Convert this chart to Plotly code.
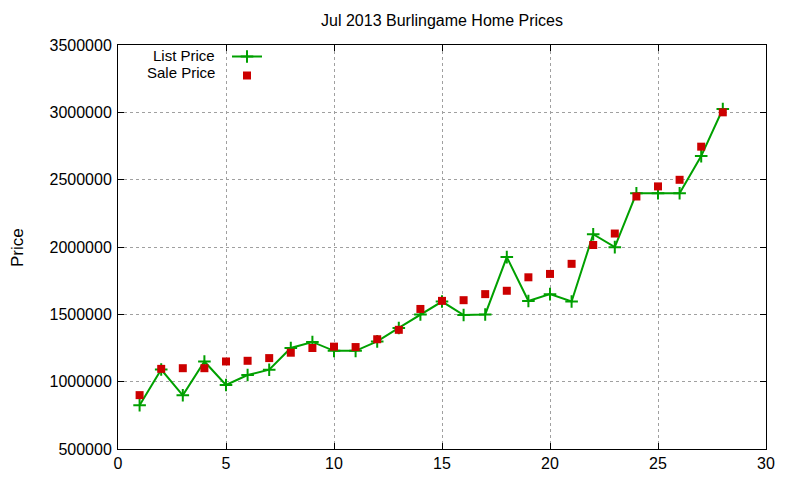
import plotly.graph_objects as go

# listing index (1..28) and prices
listing = list(range(1, 29))
list_price = [825000, 1090000, 899000, 1150000, 975000, 1049000, 1089000, 1250000, 1295000, 1229000,
              1229000, 1299000, 1399000, 1499000, 1595000, 1495000, 1499000, 1925000, 1599000, 1650000,
              1595000, 2095000, 1999000, 2399000, 2399000, 2399000, 2675000, 3025000]
sale_price = [900000, 1095000, 1100000, 1100000, 1150000, 1155000, 1175000, 1215000, 1250000, 1260000,
              1257000, 1315000, 1385000, 1540000, 1600000, 1605000, 1650000, 1675000, 1775000, 1800000,
              1875000, 2015000, 2100000, 2375000, 2450000, 2499000, 2745000, 3000000]
x_ticks = [0, 5, 10, 15, 20, 25, 30]
y_ticks = [500000, 1000000, 1500000, 2000000, 2500000, 3000000, 3500000]

FONT = 'Liberation Sans, Arial, sans-serif'
GREEN = '#00a000'
RED = '#cc0000'
W, H = 800, 480
L, R, T, B = 110, 42, 37, 39
PW, PH = W - L - R, H - T - B
OFF = 8  # page body margin shifts the figure by this much


def px(x):
    # screen pixel -> paper fraction
    return (x - OFF - L) / PW


def py(y):
    return (H - B - (y - OFF)) / PH


fig = go.Figure()
fig.add_trace(go.Scatter(x=listing, y=list_price, mode='lines+markers', name=' ',
                         line=dict(color=GREEN, width=2),
                         marker=dict(symbol='cross-thin', size=9, line=dict(color=GREEN, width=2))))
fig.add_trace(go.Scatter(x=listing, y=sale_price, mode='markers', name='  ',
                         marker=dict(symbol='square', size=8, color=RED)))

axis_style = dict(showline=True, linecolor='black', linewidth=1, mirror='ticks',
                  ticks='inside', ticklen=6, tickcolor='black',
                  showgrid=True, gridcolor='#a0a0a0', griddash='dot', gridwidth=1,
                  zeroline=False, tickfont=dict(family=FONT, size=16, color='black'))

fig.update_layout(
    width=W, height=H, plot_bgcolor='white', paper_bgcolor='white',
    margin=dict(l=L, r=R, t=T, b=B, autoexpand=False),
    font=dict(family=FONT, color='black'),
    title=dict(text='Jul 2013 Burlingame Home Prices', x=0.5, xref='paper', y=1 - (20 - OFF)/H, yanchor='middle',
               font=dict(family=FONT, size=16, color='black')),
    xaxis=dict(range=[0, 30], tickvals=x_ticks, **axis_style),
    yaxis=dict(range=[500000, 3500000], tickvals=y_ticks, tickformat='d', ticklabelstandoff=2, **axis_style),
    legend=dict(x=px(227), y=py(42), xanchor='left', yanchor='top',
                bgcolor='rgba(0,0,0,0)', font=dict(family=FONT, size=11), tracegroupgap=0),
)

# legend texts sit to the left of the samples, as in the original
note = dict(xref='paper', yref='paper', showarrow=False, font=dict(family=FONT, size=15, color='black'))
fig.add_annotation(text='List Price', x=px(217), y=py(55), xanchor='right', yanchor='middle', **note)
fig.add_annotation(text='Sale Price', x=px(217), y=py(73), xanchor='right', yanchor='middle', **note)
fig.add_annotation(text='Price', x=px(17), y=py(248), textangle=-90, xanchor='center', yanchor='middle',
                   xref='paper', yref='paper', showarrow=False, font=dict(family=FONT, size=17, color='black'))

fig.write_html('out.html')
